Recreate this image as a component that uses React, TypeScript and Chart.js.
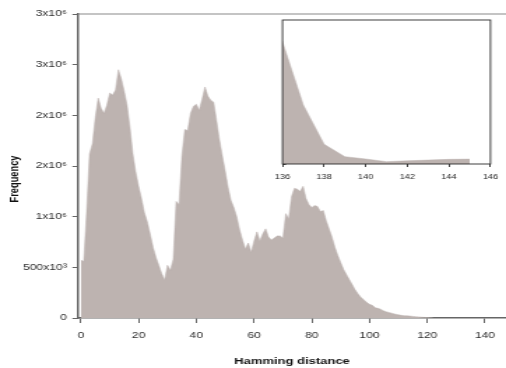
import React, { useEffect, useRef } from 'react';
import { Chart, registerables } from 'chart.js';

Chart.register(...registerables);

// ---------- data ----------
const hammingDistance = [
  0, 1, 2, 3, 4, 5, 6, 7, 8, 9, 10, 11, 12, 13, 14, 15, 16, 17, 18, 19,
  20, 21, 22, 23, 24, 25, 26, 27, 28, 29, 30, 31, 32, 33, 34, 35, 36, 37, 38, 39,
  40, 41, 42, 43, 44, 45, 46, 47, 48, 49, 50, 51, 52, 53, 54, 55, 56, 57, 58, 59,
  60, 61, 62, 63, 64, 65, 66, 67, 68, 69, 70, 71, 72, 73, 74, 75, 76, 77, 78, 79,
  80, 81, 82, 83, 84, 85, 86, 87, 88, 89, 90, 91, 92, 93, 94, 95, 96, 97, 98, 99,
  100, 101, 102, 103, 104, 105, 106, 107, 108, 109, 110, 111, 112, 113, 114, 115, 116, 117, 118, 119,
  120, 121, 122,
];

const frequency = [
  570000, 560000, 1050000, 1620000, 1720000, 1980000, 2170000, 2070000, 2020000, 2100000,
  2220000, 2200000, 2250000, 2450000, 2360000, 2240000, 2100000, 1880000, 1620000, 1440000,
  1300000, 1180000, 1040000, 950000, 830000, 700000, 600000, 520000, 440000, 375000,
  520000, 470000, 580000, 1150000, 1120000, 1600000, 1860000, 1850000, 2020000, 2090000,
  2110000, 2050000, 2160000, 2280000, 2190000, 2150000, 2130000, 1950000, 1760000, 1600000,
  1450000, 1290000, 1160000, 1090000, 1000000, 870000, 770000, 680000, 740000, 650000,
  760000, 850000, 760000, 830000, 880000, 800000, 770000, 790000, 810000, 810000,
  790000, 1030000, 980000, 1200000, 1280000, 1270000, 1250000, 1300000, 1180000, 1120000,
  1090000, 1110000, 1100000, 1050000, 1060000, 960000, 880000, 800000, 700000, 620000,
  550000, 480000, 430000, 380000, 330000, 280000, 240000, 205000, 180000, 155000,
  135000, 125000, 100000, 95000, 85000, 70000, 60000, 53000, 45000, 38000,
  32000, 26000, 23000, 21000, 19000, 16000, 13000, 11000, 8000, 6000,
  4000, 2000, 1000,
];

const xTicks = [0, 20, 40, 60, 80, 100, 120, 140];
const yTicks = [0, 500000, 1000000, 1500000, 2000000, 2500000, 3000000];
const yTickLabels = ['0', '500x10³', '1x10⁶', '2x10⁶', '2x10⁶', '3x10⁶', '3x10⁶'];

// inset (tail of the distribution)
const insetDistance = [136, 137, 138, 139, 140, 141, 142, 143, 144, 145];
const insetFrequency = [50, 24.2, 8.1, 3.0, 2.05, 0.95, 1.3, 1.6, 1.9, 2.0];
const insetXTicks = [136, 138, 140, 142, 144, 146];
const insetYTicks = [0, 10, 20, 30, 40, 50];

const xTitle = 'Hamming distance';
const yTitle = 'Frequency';

// ---------- style ----------
const FONT = "'Liberation Sans', Arial, Helvetica, sans-serif";
const FILL = '#bdb3b0';
const AXIS = '#666666';
const TICK_TEXT = '#2e2e2e';
const TITLE_TEXT = '#111111';
const LW = 362; // logical canvas width (stretched horizontally to 506 px)
const LH = 368;

const topLinePlugin = {
  id: 'topLine',
  afterDraw(chart: any) {
    const { ctx, chartArea } = chart;
    ctx.save();
    ctx.strokeStyle = '#8a8a8a';
    ctx.lineWidth = 1.2;
    ctx.beginPath();
    ctx.moveTo(chartArea.left, chartArea.top);
    ctx.lineTo(chartArea.right, chartArea.top);
    ctx.stroke();
    ctx.restore();
  },
};

const yTitlePlugin = {
  id: 'yTitle',
  afterDraw(chart: any) {
    const { ctx } = chart;
    ctx.save();
    ctx.translate(10, 179);
    ctx.rotate(-Math.PI / 2);
    ctx.font = `bold 9.3px ${FONT}`;
    ctx.fillStyle = TITLE_TEXT;
    ctx.textAlign = 'center';
    ctx.textBaseline = 'middle';
    ctx.fillText(yTitle, 0, 0);
    ctx.restore();
  },
};

const insetFramePlugin = {
  id: 'insetFrame',
  beforeDatasetsDraw(chart: any) {
    const { ctx, chartArea } = chart;
    ctx.save();
    ctx.fillStyle = '#ffffff';
    ctx.fillRect(chartArea.left, chartArea.top, chartArea.right - chartArea.left, chartArea.bottom - chartArea.top);
    ctx.restore();
  },
  afterDraw(chart: any) {
    const { ctx, chartArea } = chart;
    ctx.save();
    ctx.strokeStyle = '#2a2a2a';
    ctx.lineWidth = 0.9;
    ctx.strokeRect(chartArea.left, chartArea.top, chartArea.right - chartArea.left, chartArea.bottom - chartArea.top);
    ctx.restore();
  },
};

export default function App() {
  const mainRef = useRef<HTMLCanvasElement | null>(null);
  const insetRef = useRef<HTMLCanvasElement | null>(null);

  useEffect(() => {
    if (!mainRef.current || !insetRef.current) return;

    const main = new Chart(mainRef.current, {
      type: 'line',
      data: {
        datasets: [
          {
            data: hammingDistance.map((h, i) => ({ x: h, y: frequency[i] })),
            borderColor: FILL,
            borderWidth: 0.5,
            backgroundColor: FILL,
            fill: 'origin',
            pointRadius: 0,
            tension: 0,
          },
        ],
      },
      options: {
        responsive: false,
        animation: false,
        devicePixelRatio: 1,
        layout: { padding: { top: 14, right: 0, bottom: 0, left: 0 } },
        plugins: { legend: { display: false }, tooltip: { enabled: false } },
        scales: {
          x: {
            type: 'linear',
            min: -1,
            max: 147.3,
            afterBuildTicks: (s: any) => {
              s.ticks = xTicks.map((v) => ({ value: v }));
            },
            afterFit: (s: any) => {
              s.height = 50;
              s.paddingLeft = 0;
              s.paddingRight = 0;
            },
            grid: { display: true, drawOnChartArea: false, drawTicks: true, tickLength: 5, color: AXIS, lineWidth: 1 },
            border: { display: true, color: AXIS, width: 1.5 },
            ticks: {
              color: TICK_TEXT,
              font: { family: FONT, size: 8.7 },
              padding: 7,
              maxRotation: 0,
              autoSkip: false,
              callback: (v: any) => String(v),
            },
            title: {
              display: true,
              text: xTitle,
              color: TITLE_TEXT,
              font: { family: FONT, size: 9.3, weight: 'bold' },
              padding: { top: 0, bottom: 0.5 },
            },
          },
          y: {
            type: 'linear',
            min: 0,
            max: 3000000,
            afterBuildTicks: (s: any) => {
              s.ticks = yTicks.map((v) => ({ value: v }));
            },
            afterFit: (s: any) => {
              s.width = 55.8;
            },
            grid: { display: true, drawOnChartArea: false, drawTicks: true, tickLength: 4, color: AXIS, lineWidth: 1 },
            border: { display: true, color: AXIS, width: 1.5 },
            ticks: {
              color: TICK_TEXT,
              font: { family: FONT, size: 8.7 },
              padding: 4,
              autoSkip: false,
              callback: (_v: any, i: number) => yTickLabels[i],
            },
          },
        },
      } as any,
      plugins: [topLinePlugin, yTitlePlugin],
    });

    const inset = new Chart(insetRef.current, {
      type: 'line',
      data: {
        datasets: [
          {
            data: insetDistance.map((h, i) => ({ x: h, y: insetFrequency[i] })),
            borderColor: FILL,
            borderWidth: 0.5,
            backgroundColor: FILL,
            fill: 'origin',
            pointRadius: 0,
            tension: 0,
          },
        ],
      },
      options: {
        responsive: false,
        animation: false,
        devicePixelRatio: 1,
        layout: { padding: { top: 20, right: 11.1, bottom: 184, left: 197.1 } },
        plugins: { legend: { display: false }, tooltip: { enabled: false } },
        scales: {
          x: {
            type: 'linear',
            min: 136,
            max: 146,
            afterBuildTicks: (s: any) => {
              s.ticks = insetXTicks.map((v) => ({ value: v }));
            },
            afterFit: (s: any) => {
              s.height = 20;
              s.paddingLeft = 0;
              s.paddingRight = 0;
            },
            grid: { display: true, drawOnChartArea: false, drawTicks: true, tickLength: 3, color: '#2a2a2a', lineWidth: 0.9 },
            border: { display: false },
            ticks: {
              color: '#262626',
              font: { family: FONT, size: 6.6 },
              padding: 6.6,
              maxRotation: 0,
              autoSkip: false,
              callback: (v: any) => String(v),
            },
          },
          y: {
            type: 'linear',
            min: 0,
            max: 59,
            afterBuildTicks: (s: any) => {
              s.ticks = insetYTicks.map((v) => ({ value: v }));
            },
            afterFit: (s: any) => {
              s.width = 5;
              s.paddingTop = 0;
              s.paddingBottom = 0;
            },
            grid: { display: true, drawOnChartArea: false, drawTicks: true, tickLength: -2.5, color: '#2a2a2a', lineWidth: 0.9 },
            border: { display: false },
            ticks: { display: false },
          },
        },
      } as any,
      plugins: [insetFramePlugin],
    });

    return () => {
      main.destroy();
      inset.destroy();
    };
  }, []);

  const canvasStyle: React.CSSProperties = {
    position: 'absolute',
    left: 0,
    top: 0,
    width: '506px',
    height: '368px',
  };

  return (
    <div style={{ position: 'fixed', left: 0, top: 0, width: 506, height: 368, background: '#ffffff' }}>
      <canvas ref={mainRef} width={LW} height={LH} style={canvasStyle} />
      <canvas ref={insetRef} width={LW} height={LH} style={canvasStyle} />
    </div>
  );
}
